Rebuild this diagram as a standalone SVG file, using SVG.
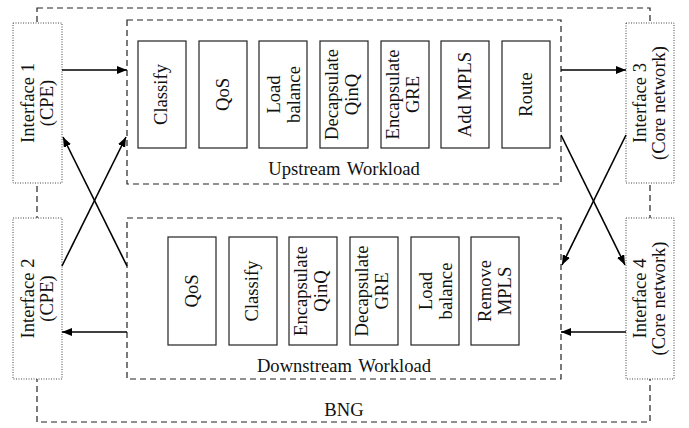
<svg xmlns="http://www.w3.org/2000/svg" width="689" height="428" viewBox="0 0 689 428">
<style>
text{font-family:"Liberation Serif","Times New Roman",serif;font-size:18.6px;fill:#111}
.dash{fill:none;stroke:#222;stroke-width:1.2;stroke-dasharray:6,4}
.dot{fill:#fff;stroke:#444;stroke-width:1;stroke-dasharray:1,1.5}
.box{fill:#fff;stroke:#222;stroke-width:1.2}
.c{text-anchor:middle}
.ws{word-spacing:2px}
.arr{stroke:#000;stroke-width:1.6;fill:none;marker-end:url(#ah)}
</style>
<defs>
<marker id="ah" viewBox="0 0 10 8" refX="10" refY="4" markerWidth="10" markerHeight="8" markerUnits="userSpaceOnUse" orient="auto">
<path d="M0,0 L10,4 L0,8 z" fill="#000"/>
</marker>
</defs>
<g id="bng">
<rect class="dash" x="37" y="8" width="613" height="414"/>
<text class="c" x="344" y="416">BNG</text>
</g>
<g id="upstream">
<rect class="dash" x="127" y="20" width="434" height="164"/>
<text class="c ws" x="344" y="175">Upstream Workload</text>
</g>
<g id="downstream">
<rect class="dash" x="127" y="218" width="434" height="161"/>
<text class="c ws" x="344" y="372">Downstream Workload</text>
</g>
<g id="if1"><rect class="dot" x="13" y="23" width="49" height="160"/>
<text class="c" transform="translate(37.5,103) rotate(-90)"><tspan x="0" y="-3.5">Interface 1</tspan><tspan x="0" y="15">(CPE)</tspan></text></g>
<g id="if2"><rect class="dot" x="13" y="218" width="49" height="161"/>
<text class="c" transform="translate(37.5,298.5) rotate(-90)"><tspan x="0" y="-3.5">Interface 2</tspan><tspan x="0" y="15">(CPE)</tspan></text></g>
<g id="if3"><rect class="dot" x="626" y="23" width="48" height="160"/>
<text class="c" transform="translate(650,103) rotate(-90)"><tspan x="0" y="-4">Interface 3</tspan><tspan x="0" y="14.5">(Core network)</tspan></text></g>
<g id="if4"><rect class="dot" x="626" y="218" width="48" height="161"/>
<text class="c" transform="translate(650,298.5) rotate(-90)"><tspan x="0" y="-4">Interface 4</tspan><tspan x="0" y="14.5">(Core network)</tspan></text></g>

<g id="u-classify"><rect class="box" x="138" y="41" width="48" height="107"/>
<text class="c" transform="translate(162,94.5) rotate(-90)" y="5">Classify</text></g>
<g id="u-qos"><rect class="box" x="199" y="41" width="48" height="107"/>
<text class="c" transform="translate(223,94.5) rotate(-90)" y="6">QoS</text></g>
<g id="u-lb"><rect class="box" x="259" y="41" width="48" height="107"/>
<text class="c" transform="translate(283,94.5) rotate(-90)"><tspan x="0" y="-3">Load</tspan><tspan x="0" y="17">balance</tspan></text></g>
<g id="u-dqinq"><rect class="box" x="320" y="41" width="48" height="107"/>
<text class="c" transform="translate(344,94.5) rotate(-90)"><tspan x="0" y="-6">Decapsulate</tspan><tspan x="0" y="14">QinQ</tspan></text></g>
<g id="u-egre"><rect class="box" x="381" y="41" width="48" height="107"/>
<text class="c" transform="translate(405,94.5) rotate(-90)"><tspan x="0" y="-6">Encapsulate</tspan><tspan x="0" y="14">GRE</tspan></text></g>
<g id="u-mpls"><rect class="box" x="441" y="41" width="48" height="107"/>
<text class="c" transform="translate(465,94.5) rotate(-90)" y="6">Add MPLS</text></g>
<g id="u-route"><rect class="box" x="502" y="41" width="48" height="107"/>
<text class="c" transform="translate(526,94.5) rotate(-90)" y="6">Route</text></g>

<g id="d-qos"><rect class="box" x="168" y="237" width="48" height="108"/>
<text class="c" transform="translate(192,291) rotate(-90)" y="6">QoS</text></g>
<g id="d-classify"><rect class="box" x="229" y="237" width="48" height="108"/>
<text class="c" transform="translate(253,291) rotate(-90)" y="5">Classify</text></g>
<g id="d-eqinq"><rect class="box" x="289" y="237" width="48" height="108"/>
<text class="c" transform="translate(313,291) rotate(-90)"><tspan x="0" y="-6">Encapsulate</tspan><tspan x="0" y="14">QinQ</tspan></text></g>
<g id="d-dgre"><rect class="box" x="350" y="237" width="48" height="108"/>
<text class="c" transform="translate(374,291) rotate(-90)"><tspan x="0" y="-6">Decapsulate</tspan><tspan x="0" y="14">GRE</tspan></text></g>
<g id="d-lb"><rect class="box" x="411" y="237" width="48" height="108"/>
<text class="c" transform="translate(435,291) rotate(-90)"><tspan x="0" y="-3">Load</tspan><tspan x="0" y="17">balance</tspan></text></g>
<g id="d-mpls"><rect class="box" x="471" y="237" width="48" height="108"/>
<text class="c" transform="translate(495,291) rotate(-90)"><tspan x="0" y="-4">Remove</tspan><tspan x="0" y="16">MPLS</tspan></text></g>

<g id="connectors">
<line class="arr" x1="62" y1="70" x2="127" y2="70"/>
<line class="arr" x1="561" y1="70" x2="626" y2="70"/>
<line class="arr" x1="626" y1="332" x2="561" y2="332"/>
<line class="arr" x1="127" y1="332" x2="62" y2="332"/>
<line class="arr" x1="62" y1="266" x2="126" y2="137"/>
<line class="arr" x1="127" y1="266" x2="63" y2="137"/>
<line class="arr" x1="561" y1="135" x2="625" y2="265"/>
<line class="arr" x1="626" y1="135" x2="562" y2="265"/>
</g>
</svg>
